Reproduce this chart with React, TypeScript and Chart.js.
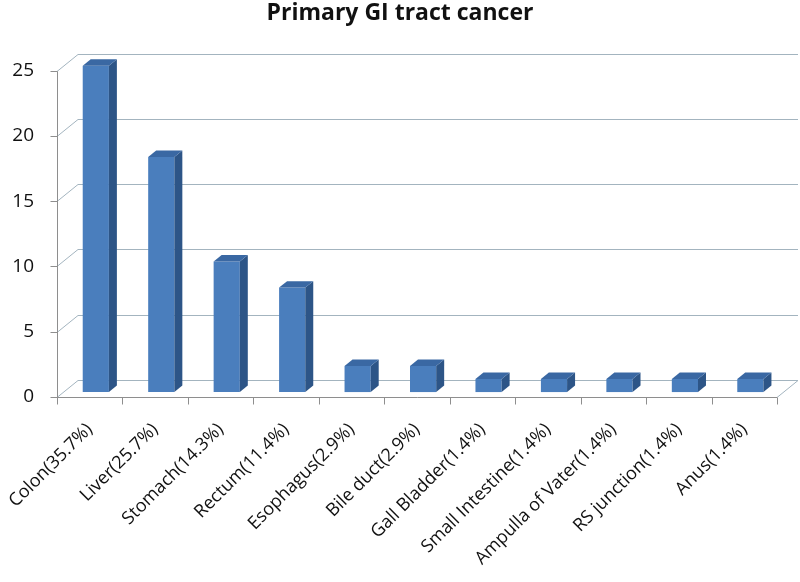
import React, { useEffect, useRef } from "react";
import { Chart, registerables } from "chart.js";

Chart.register(...registerables);

const categories = [
  "Colon(35.7%)",
  "Liver(25.7%)",
  "Stomach(14.3%)",
  "Rectum(11.4%)",
  "Esophagus(2.9%)",
  "Bile duct(2.9%)",
  "Gall Bladder(1.4%)",
  "Small Intestine(1.4%)",
  "Ampulla of Vater(1.4%)",
  "RS junction(1.4%)",
  "Anus(1.4%)",
];
const counts = [25, 18, 10, 8, 2, 2, 1, 1, 1, 1, 1];
const yTicks = [0, 5, 10, 15, 20, 25];
const chartTitle = "Primary GI tract cancer";

const FONT = "'Open Sans', 'Liberation Sans', sans-serif";
const DX = 21;
const DY = -17;
const BF = 0.29;
const BB = 0.67;
const GRID = "#a3b4bf";
const AXIS = "#8e8e8e";
const FRONT = "#4a7ebd";
const SIDE = "#2d5587";
const TOP = "#3a68a3";

const threeD = {
  id: "threeD",
  beforeDatasetsDraw(chart: any) {
    const { ctx, chartArea: a, scales } = chart;
    const x = scales.x;
    const y = scales.y;
    ctx.save();
    ctx.lineWidth = 1;
    ctx.strokeStyle = GRID;
    for (const v of yTicks) {
      const py = Math.round(y.getPixelForValue(v)) + 0.5;
      ctx.beginPath();
      ctx.moveTo(a.left, py);
      ctx.lineTo(a.left + DX, py + DY);
      ctx.lineTo(a.right + DX, py + DY);
      if (v === 0) ctx.lineTo(a.right, py);
      ctx.stroke();
    }
    ctx.strokeStyle = AXIS;
    const y0 = Math.round(y.getPixelForValue(0)) + 0.5;
    const yTop = Math.round(y.getPixelForValue(yTicks[yTicks.length - 1])) + 0.5;
    const lx = Math.round(a.left) + 0.5;
    ctx.beginPath();
    ctx.moveTo(lx, yTop);
    ctx.lineTo(lx, y0);
    ctx.lineTo(a.right, y0);
    ctx.stroke();
    for (const v of yTicks) {
      const py = Math.round(y.getPixelForValue(v)) + 0.5;
      ctx.beginPath();
      ctx.moveTo(lx - 7, py);
      ctx.lineTo(lx, py);
      ctx.stroke();
    }
    const step = x.getPixelForValue(1) - x.getPixelForValue(0);
    for (let i = 0; i <= categories.length; i++) {
      const px = Math.round(x.getPixelForValue(0) - step / 2 + i * step) + 0.5;
      ctx.beginPath();
      ctx.moveTo(px, y0);
      ctx.lineTo(px, y0 + 7);
      ctx.stroke();
    }
    ctx.restore();
    ctx.save();
    ctx.translate(BF * DX, BF * DY);
  },
  afterDatasetsDraw(chart: any) {
    const { ctx } = chart;
    const meta = chart.getDatasetMeta(0);
    const ddx = (BB - BF) * DX;
    const ddy = (BB - BF) * DY;
    meta.data.forEach((el: any) => {
      const p = el.getProps(["x", "y", "base", "width"], true);
      const l = p.x - p.width / 2;
      const r = p.x + p.width / 2;
      ctx.fillStyle = SIDE;
      ctx.beginPath();
      ctx.moveTo(r, p.y);
      ctx.lineTo(r + ddx, p.y + ddy);
      ctx.lineTo(r + ddx, p.base + ddy);
      ctx.lineTo(r, p.base);
      ctx.closePath();
      ctx.fill();
      ctx.fillStyle = TOP;
      ctx.beginPath();
      ctx.moveTo(l, p.y);
      ctx.lineTo(l + ddx, p.y + ddy);
      ctx.lineTo(r + ddx, p.y + ddy);
      ctx.lineTo(r, p.y);
      ctx.closePath();
      ctx.fill();
    });
    ctx.restore();
  },
};

export default function App() {
  const ref = useRef<HTMLCanvasElement | null>(null);
  useEffect(() => {
    if (!ref.current) return;
    const chart = new Chart(ref.current, {
      type: "bar",
      data: {
        labels: categories,
        datasets: [
          {
            data: counts,
            backgroundColor: FRONT,
            borderWidth: 0,
            barPercentage: 0.4,
            categoryPercentage: 1,
            clip: false as any,
          },
        ],
      },
      options: {
        responsive: false,
        animation: false,
        layout: { padding: { left: 0, right: 0, top: 0, bottom: 0 } },
        plugins: {
          legend: { display: false },
          tooltip: { enabled: false },
          title: {
            display: true,
            text: chartTitle,
            color: "#111",
            font: { family: FONT, size: 23, weight: "bold" },
            padding: { top: 0, bottom: 43 },
          },
        },
        scales: {
          x: {
            grid: { display: false },
            border: { display: false },
            ticks: {
              color: "#111",
              font: { family: FONT, size: 18 },
              maxRotation: 45,
              minRotation: 45,
              padding: 14,
              autoSkip: false,
            },
            afterFit: (s: any) => {
              s.height = 185;
              s.paddingLeft = 0;
              s.paddingRight = 23;
            },
          },
          y: {
            min: 0,
            max: 25,
            grid: { display: false },
            border: { display: false },
            ticks: {
              stepSize: 5,
              color: "#111",
              font: { family: FONT, size: 19 },
              padding: 15,
            },
            afterFit: (s: any) => {
              s.width = 57;
              s.paddingTop = 0;
              s.paddingBottom = 0;
            },
          },
        },
      },
      plugins: [threeD],
    });
    return () => chart.destroy();
  }, []);
  return (
    <div style={{ position: "absolute", left: 0, top: 0, width: 800, height: 582, background: "#fff" }}>
      <canvas ref={ref} width={800} height={582} />
    </div>
  );
}
